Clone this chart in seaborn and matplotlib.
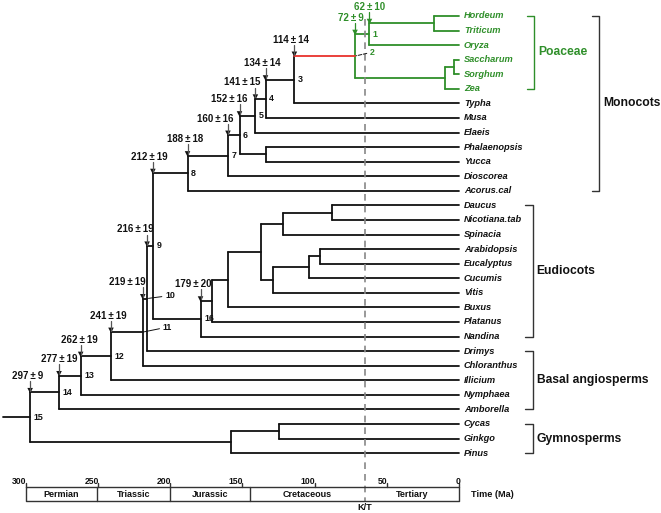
"""
Dated phylogeny of seed plants with a geological time scale.
"""

import matplotlib
matplotlib.use('Agg')
import matplotlib.pyplot as plt
import seaborn as sns
import pandas as pd
import numpy as np

# ---- data -----------------------------------------------------------------
taxa = ['Hordeum', 'Triticum', 'Oryza', 'Saccharum', 'Sorghum', 'Zea', 'Typha',
        'Musa', 'Elaeis', 'Phalaenopsis', 'Yucca', 'Dioscorea', 'Acorus.cal',
        'Daucus', 'Nicotiana.tab', 'Spinacia', 'Arabidopsis', 'Eucalyptus',
        'Cucumis', 'Vitis', 'Buxus', 'Platanus', 'Nandina', 'Drimys',
        'Chloranthus', 'Illicium', 'Nymphaea', 'Amborella', 'Cycas', 'Ginkgo',
        'Pinus']

# internal nodes (children listed before parents), ages in Ma
node_ids = ['ht', 'n1', 'ss', 'pm', 'n2', 'n3', 'n4', 'n5', 'py', 'n6', 'n7',
            'n8', 'dn', 'ast', 'ae', 'ros1', 'ros', 'core', 'eu1', 'eu2', 'n16',
            'n9', 'n10', 'n11', 'n12', 'n13', 'n14', 'cg', 'gym', 'n15']
node_ages = [17, 62, 3.5, 10, 72, 114, 134, 141, 134, 152, 160,
             188, 88, 122, 96, 104, 129, 137, 160, 171, 179,
             212, 216, 219, 241, 262, 277, 125, 158, 297]
node_children = [('Hordeum', 'Triticum'), ('ht', 'Oryza'), ('Saccharum', 'Sorghum'),
                 ('ss', 'Zea'), ('n1', 'pm'), ('n2', 'Typha'), ('n3', 'Musa'),
                 ('n4', 'Elaeis'), ('Phalaenopsis', 'Yucca'), ('n5', 'py'),
                 ('n6', 'Dioscorea'), ('n7', 'Acorus.cal'), ('Daucus', 'Nicotiana.tab'),
                 ('dn', 'Spinacia'), ('Arabidopsis', 'Eucalyptus'), ('ae', 'Cucumis'),
                 ('ros1', 'Vitis'), ('ast', 'ros'), ('core', 'Buxus'),
                 ('eu1', 'Platanus'), ('eu2', 'Nandina'), ('n8', 'n16'),
                 ('n9', 'Drimys'), ('n10', 'Chloranthus'), ('n11', 'Illicium'),
                 ('n12', 'Nymphaea'), ('n13', 'Amborella'), ('Cycas', 'Ginkgo'),
                 ('cg', 'Pinus'), ('n14', 'gym')]
root_age = 316

numbered_nodes = ['n%d' % i for i in range(1, 17)]
age_labels = ['62\u00b110', '72\u00b19', '114\u00b114', '134\u00b114', '141\u00b115',
              '152\u00b116', '160\u00b116', '188\u00b118', '212\u00b119', '216\u00b119',
              '219\u00b119', '241\u00b119', '262\u00b119', '277\u00b119', '297\u00b19',
              '179\u00b120']

groups = ['Poaceae', 'Monocots', 'Eudiocots', 'Basal angiosperms', 'Gymnosperms']
group_first = ['Hordeum', 'Hordeum', 'Daucus', 'Drimys', 'Cycas']
group_last = ['Zea', 'Acorus.cal', 'Nandina', 'Amborella', 'Pinus']

periods = ['Permian', 'Triassic', 'Jurassic', 'Cretaceous', 'Tertiary']
period_bounds = [300, 251, 200, 145, 65, 0]
time_ticks = [300, 250, 200, 150, 100, 50, 0]
kt_age = 65

# ---- layout ---------------------------------------------------------------
GREEN = '#2f8f2a'
RED = '#e8322c'
BLACK = '#111111'
PX = 0.72  # points per pixel at dpi 100

# label shift of each age tag relative to its arrow (pixels)
age_label_dx = [0, -4, -3, -3, -13, -10, -13, -2, -4, -12, -15, -3, -1, 0, -3, -7]

sns.set_theme(style='white')
plt.rcParams['font.family'] = ['Liberation Sans', 'DejaVu Sans']
plt.rcParams['font.weight'] = 'bold'

fig = plt.figure(figsize=(6.61, 5.13), dpi=100)
ax = fig.add_axes([0, 0, 1, 1])

# positions
ypos = {t: float(i) for i, t in enumerate(taxa)}
age = {t: 0.0 for t in taxa}
kids = dict(zip(node_ids, node_children))
for nid, a, ch in zip(node_ids, node_ages, node_children):
    ypos[nid] = (ypos[ch[0]] + ypos[ch[1]]) / 2
    age[nid] = a


def descendants(n):
    out = {n}
    for c in kids.get(n, ()):
        out |= descendants(c)
    return out


grass = descendants('n2')

rows = []
seg = 0
for nid, ch in zip(node_ids, node_children):
    kind = 'grass' if nid in grass else 'plain'
    rows += [(seg, age[nid], ypos[ch[0]], kind), (seg, age[nid], ypos[ch[1]], kind)]
    seg += 1
    for c in ch:
        k = 'red' if c == 'n2' else ('grass' if c in grass else 'plain')
        rows += [(seg, age[nid], ypos[c], k), (seg, age[c], ypos[c], k)]
        seg += 1
rows += [(seg, root_age, ypos['n15'], 'plain'), (seg, age['n15'], ypos['n15'], 'plain')]
edges = pd.DataFrame(rows, columns=['seg', 'age', 'y', 'kind'])

sns.lineplot(data=edges, x='age', y='y', units='seg', estimator=None, sort=False,
             hue='kind', palette={'plain': BLACK, 'grass': GREEN, 'red': RED},
             linewidth=1.3, legend=False, ax=ax)

# K/T boundary
box_top, box_bot = 32.33, 33.29
ax.plot([kt_age, kt_age], [0.2, box_bot], ls=(0, (4, 3)), color='#888888', lw=1.2)

# taxon names
for t in taxa:
    ax.annotate(t, (0, ypos[t]), xytext=(5 * PX, 0), textcoords='offset points',
                ha='left', va='center', fontsize=6.7, style='italic', weight='bold',
                color=GREEN if t in grass else BLACK)

# dated nodes: arrows, age tags and node numbers
tops = [ypos[kids[n][0]] for n in numbered_nodes]
n_ages = [age[n] for n in numbered_nodes]
colors = [GREEN if n in grass else BLACK for n in numbered_nodes]
for a, top, lab, dx, c in zip(n_ages, tops, age_labels, age_label_dx, colors):
    ax.plot([a, a], [top - 0.78, top - 0.1], color='#555555' if c == BLACK else c, lw=0.9)
    ax.annotate(lab.replace('\u00b1', '\u2009\u00b1\u2009'), (a, top),
                xytext=(dx * PX, 16.5 * PX), textcoords='offset points',
                ha='center', va='center', fontsize=7, weight='bold', color=c)
sns.scatterplot(x=n_ages, y=[t - 0.12 for t in tops], marker='v', s=16,
                hue=colors, palette={BLACK: BLACK, GREEN: GREEN}, legend=False,
                edgecolor='none', ax=ax)

leader = {'n2': (15, 4, '--'), 'n10': (18, 3, '-'), 'n11': (20, 5, '-')}
for i, n in enumerate(numbered_nodes):
    c = colors[i]
    if n in leader:
        dx, dy, ls = leader[n]
        ax.annotate(str(i + 1), (age[n], ypos[n]), xytext=(dx * PX, dy * PX),
                    textcoords='offset points', ha='left', va='center', fontsize=6.4,
                    weight='bold', color=c,
                    arrowprops=dict(arrowstyle='-', color=BLACK, lw=0.7, ls=ls,
                                    shrinkA=0, shrinkB=1))
    else:
        ax.annotate(str(i + 1), (age[n], ypos[n]), xytext=(3.5 * PX, 0),
                    textcoords='offset points', ha='left', va='center', fontsize=6.4,
                    weight='bold', color=c)

# clade brackets
bracket_x = [-52, -97, -51, -51, -51]
for g, f, l, bx in zip(groups, group_first, group_last, bracket_x):
    c = GREEN if g == 'Poaceae' else '#333333'
    y0, y1 = ypos[f], ypos[l]
    ax.plot([bx + 5, bx, bx, bx + 5], [y0, y0, y1, y1], color=c, lw=1.0)
    ax.annotate(g, (bx, (y0 + y1) / 2), xytext=(4 * PX, 0), textcoords='offset points',
                ha='left', va='center', fontsize=8.7, weight='bold',
                color=GREEN if g == 'Poaceae' else BLACK)

# geological time scale
ax.plot([period_bounds[0], period_bounds[-1], period_bounds[-1], period_bounds[0], period_bounds[0]],
        [box_top, box_top, box_bot, box_bot, box_top], color='#333333', lw=1.0)
for b in period_bounds[1:-2]:
    ax.plot([b, b], [box_top, box_bot], color='#333333', lw=1.0)
for name, a0, a1 in zip(periods, period_bounds[:-1], period_bounds[1:]):
    ax.text((a0 + a1) / 2, (box_top + box_bot) / 2 + 0.03, name, ha='center', va='center',
            fontsize=6.5, weight='bold', color=BLACK)
for tk in time_ticks:
    ax.plot([tk, tk], [box_top - 0.3, box_top], color='#333333', lw=1.0)
    ax.annotate(str(tk), (tk, box_top), xytext=(1 * PX, 1.5 * PX), textcoords='offset points',
                ha='right', va='bottom', fontsize=6.2, weight='bold', color=BLACK)
ax.annotate('Time (Ma)', (0, (box_top + box_bot) / 2), xytext=(12 * PX, 0),
            textcoords='offset points', ha='left', va='center', fontsize=6.6,
            weight='bold', color=BLACK)
ax.annotate('K/T', (kt_age, box_bot), xytext=(0, -6 * PX), textcoords='offset points',
            ha='center', va='center', fontsize=6.6, weight='bold', color=BLACK)

ax.set_xlim(317.87, -139.89)
ax.set_ylim(34.11, -1.098)
ax.axis('off')

fig.savefig('out.png', dpi=100)
